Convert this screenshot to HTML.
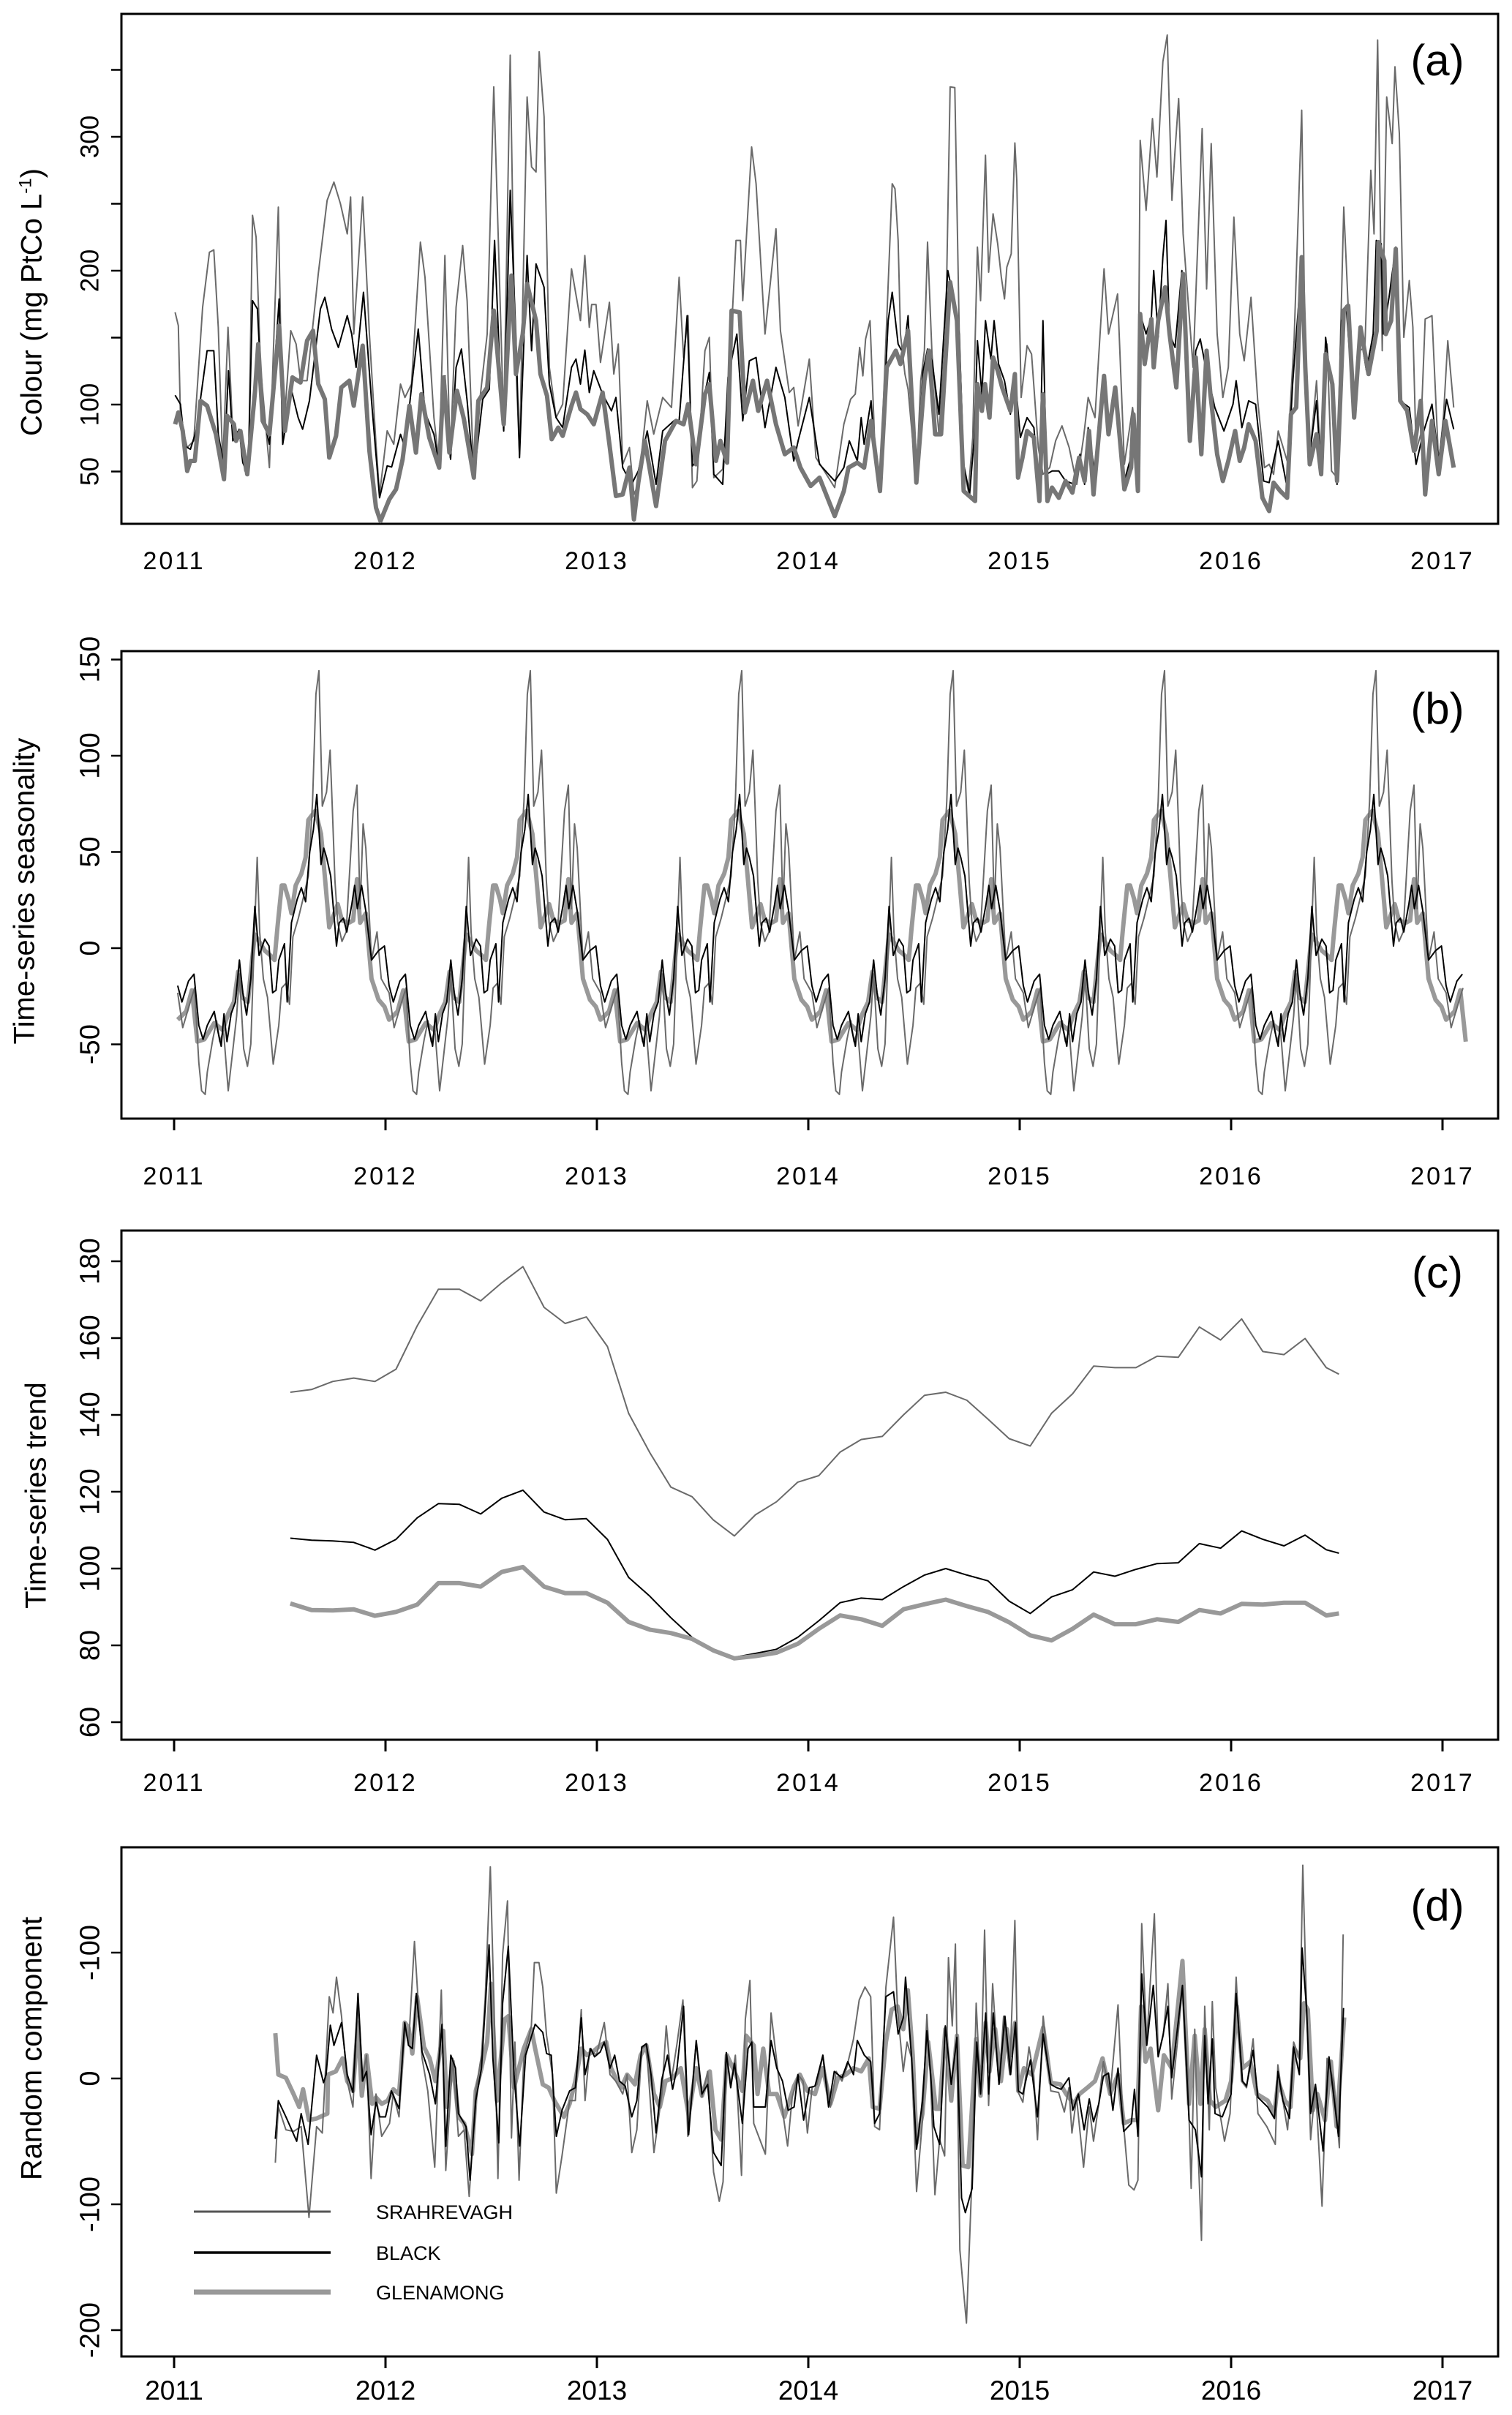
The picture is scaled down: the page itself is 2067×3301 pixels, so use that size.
<!DOCTYPE html>
<html><head><meta charset="utf-8"><title>Colour decomposition</title>
<style>
html,body{margin:0;padding:0;background:#fff;}
svg{display:block;font-family:"Liberation Sans",sans-serif;}
.nar{font-family:"Liberation Sans Narrow","Liberation Sans",sans-serif;}
</style></head>
<body>
<svg id="chart" xmlns="http://www.w3.org/2000/svg" width="2067" height="3301" viewBox="0 0 2067 3301">
<rect x="0" y="0" width="2067" height="3301" fill="#fff"/>
</svg>
<script>
// ---------- DATA ----------
const years = [2011,2012,2013,2014,2015,2016,2017];
const ticksA = [50,100,150,200,250,300,350];
const tickLabelsA = ["50","100","","200","","300",""];
const ticksB = [-50,0,50,100,150];
const tickLabelsB = ["-50","0","50","100","150"];
const ticksC = [60,80,100,120,140,160,180];
const tickLabelsC = ["60","80","100","120","140","160","180"];
const ticksD = [-200,-100,0,100];
const tickLabelsD = ["-200","-100","0","-100"];
const seriesNames = ["SRAHREVAGH","BLACK","GLENAMONG"];

// Panel (a) colour
const aSrahT = [2011.005,2011.020,2011.030,2011.062,2011.093,2011.135,2011.167,2011.188,2011.209,2011.230,2011.255,2011.278,2011.308,2011.335,2011.352,2011.371,2011.388,2011.409,2011.451,2011.493,2011.514,2011.552,2011.577,2011.598,2011.629,2011.682,2011.724,2011.756,2011.787,2011.819,2011.835,2011.850,2011.892,2011.924,2011.955,2011.972,2012.008,2012.039,2012.071,2012.092,2012.123,2012.165,2012.187,2012.229,2012.254,2012.281,2012.306,2012.334,2012.365,2012.386,2012.418,2012.449,2012.481,2012.512,2012.533,2012.559,2012.590,2012.611,2012.634,2012.670,2012.691,2012.712,2012.727,2012.750,2012.775,2012.807,2012.838,2012.880,2012.922,2012.943,2012.964,2012.975,2012.996,2013.017,2013.059,2013.080,2013.101,2013.122,2013.154,2013.175,2013.196,2013.238,2013.269,2013.311,2013.353,2013.389,2013.410,2013.431,2013.452,2013.473,2013.511,2013.532,2013.553,2013.595,2013.620,2013.658,2013.679,2013.690,2013.732,2013.753,2013.795,2013.847,2013.868,2013.910,2013.931,2013.952,2014.005,2014.036,2014.125,2014.168,2014.200,2014.222,2014.243,2014.258,2014.271,2014.292,2014.318,2014.339,2014.371,2014.397,2014.410,2014.425,2014.436,2014.457,2014.472,2014.511,2014.532,2014.549,2014.564,2014.585,2014.618,2014.650,2014.671,2014.693,2014.714,2014.735,2014.757,2014.778,2014.800,2014.815,2014.838,2014.853,2014.874,2014.896,2014.913,2014.928,2014.939,2014.960,2014.977,2014.986,2015.007,2015.035,2015.056,2015.088,2015.110,2015.142,2015.170,2015.200,2015.234,2015.270,2015.302,2015.324,2015.356,2015.399,2015.420,2015.463,2015.495,2015.534,2015.559,2015.570,2015.598,2015.628,2015.649,2015.677,2015.698,2015.720,2015.735,2015.752,2015.773,2015.820,2015.863,2015.884,2015.906,2015.934,2015.961,2015.987,2016.013,2016.041,2016.062,2016.094,2016.126,2016.158,2016.180,2016.201,2016.223,2016.265,2016.298,2016.334,2016.351,2016.372,2016.404,2016.426,2016.454,2016.475,2016.501,2016.533,2016.554,2016.582,2016.608,2016.633,2016.661,2016.676,2016.693,2016.715,2016.736,2016.762,2016.775,2016.796,2016.817,2016.843,2016.860,2016.875,2016.897,2016.918,2016.950,2016.982,2017.004,2017.025,2017.053];
const aSrahV = [168.9,158.9,90.3,67.9,72.9,172.7,213.8,215.6,157.7,55.4,157.7,77.9,80.4,50.4,47.9,241.3,225.1,127.8,52.9,247.5,70.4,155.2,145.2,117.8,117.8,197.6,252.5,266.2,250.0,227.5,255.0,152.7,255.0,152.7,70.4,32.9,80.4,70.4,115.3,105.3,115.3,221.3,195.1,90.3,55.4,211.3,60.4,172.7,218.8,177.6,45.4,107.8,152.7,337.3,227.5,85.3,361.0,152.7,62.9,329.8,277.5,273.7,363.5,314.9,127.8,90.3,100.3,201.4,162.7,211.3,157.7,174.7,174.7,131.5,176.4,122.8,145.2,55.4,67.9,32.9,40.4,102.8,77.9,105.3,97.8,195.1,135.2,166.4,37.9,42.9,140.2,150.2,45.4,51.7,102.8,222.6,222.6,177.6,292.4,265.0,152.7,231.3,155.2,109.0,112.8,84.1,134.0,60.4,38,85.3,104,107.8,142.7,121.5,148.9,162.7,55.4,38,162.7,265,261.2,222.6,152.7,122.8,111.5,42.9,117.8,140.2,221.3,137.7,77.8,155.2,337.3,336.8,155.2,52.9,35.4,75.4,217.6,177.6,286.2,198.9,242.5,220.1,195.1,178.9,202.6,212.6,295.4,267.5,105.3,144,137.7,67.9,47.9,52.9,72.9,84.1,67.9,40.4,75.4,105.3,90.3,201.4,152.7,182.6,55.4,97.8,62.9,297.4,245,313.6,270,356,376,252.5,290,328.6,227.5,127.8,306.1,186.4,294.9,152.7,105.3,127.8,240,152.7,132.7,180.1,102.8,52.9,55.4,47.9,80.3,57.9,147.7,319.9,132.7,60.4,117.8,47.9,145.2,50.4,45.4,247.5,172.7,107.8,140.2,142.7,275,227.5,372.3,140.2,329.8,294.9,352.3,302.4,150.2,192.6,157.7,65.4,77.8,163.9,166.4,55.4,90.3,147.7,97.8];
const aBlackT = [2011.005,2011.030,2011.051,2011.077,2011.104,2011.156,2011.188,2011.209,2011.236,2011.257,2011.278,2011.308,2011.325,2011.350,2011.371,2011.394,2011.419,2011.451,2011.497,2011.514,2011.556,2011.587,2011.608,2011.640,2011.692,2011.713,2011.745,2011.777,2011.819,2011.840,2011.861,2011.896,2011.934,2011.972,2012.008,2012.029,2012.071,2012.092,2012.123,2012.155,2012.187,2012.229,2012.254,2012.281,2012.308,2012.334,2012.359,2012.386,2012.418,2012.460,2012.491,2012.516,2012.544,2012.559,2012.590,2012.617,2012.634,2012.670,2012.691,2012.712,2012.750,2012.775,2012.807,2012.838,2012.880,2012.901,2012.922,2012.943,2012.964,2012.985,2013.027,2013.069,2013.090,2013.122,2013.164,2013.196,2013.238,2013.280,2013.311,2013.364,2013.389,2013.427,2013.452,2013.473,2013.511,2013.532,2013.553,2013.595,2013.620,2013.662,2013.690,2013.721,2013.753,2013.795,2013.847,2013.889,2013.931,2013.952,2014.005,2014.053,2014.125,2014.168,2014.194,2014.232,2014.250,2014.264,2014.297,2014.318,2014.339,2014.378,2014.397,2014.425,2014.451,2014.472,2014.511,2014.543,2014.564,2014.585,2014.618,2014.660,2014.693,2014.714,2014.735,2014.763,2014.785,2014.800,2014.821,2014.838,2014.864,2014.879,2014.900,2014.928,2014.956,2014.977,2015.003,2015.035,2015.067,2015.093,2015.110,2015.127,2015.153,2015.185,2015.217,2015.260,2015.285,2015.307,2015.324,2015.356,2015.399,2015.427,2015.452,2015.495,2015.521,2015.534,2015.555,2015.570,2015.598,2015.623,2015.634,2015.655,2015.677,2015.692,2015.709,2015.735,2015.767,2015.805,2015.833,2015.854,2015.880,2015.902,2015.923,2015.966,2016.009,2016.024,2016.051,2016.083,2016.116,2016.154,2016.180,2016.201,2016.223,2016.265,2016.291,2016.330,2016.347,2016.372,2016.404,2016.426,2016.447,2016.479,2016.501,2016.522,2016.544,2016.582,2016.612,2016.640,2016.672,2016.687,2016.710,2016.719,2016.747,2016.779,2016.800,2016.843,2016.875,2016.907,2016.950,2016.982,2017.019,2017.053];
const aBlackV = [107.0,100.3,69.1,66.6,80.3,140.2,140.2,77.8,54.2,125.3,72.9,81.6,56.6,47.9,177.6,171.4,92.8,70.4,178.9,70.4,110.3,90.3,81.6,102.8,171.4,180.1,156.4,142.7,166.4,152.7,127.8,183.9,102.8,30.4,54.2,53.4,77.8,67.9,112.8,156.4,94.1,77.8,54.2,121.5,59.1,127.8,141.5,102.8,45.4,104,111.5,222.6,115.3,80.3,260,150.2,60.4,211.3,140.2,205.1,187.6,115.3,90.3,82.8,127.8,134,115.3,140.7,109,125.3,107.8,95.3,105.3,52.9,40.4,50.4,80.3,40.4,80.3,87.8,87.8,166.4,54.2,57.9,109,124,47.9,40.4,120.3,152.7,87.8,132.7,135.2,82.8,127.8,105.3,57.9,72.9,105.3,55.4,42.9,52.9,72.9,57.9,90.3,70.4,102.8,55.4,39.2,162.7,183.9,145.2,137.7,166.4,41.7,125.3,141.5,132.7,92.8,200.1,175.2,152.7,55.4,32.9,75.4,147.7,107.8,162.7,134,162.7,130.3,117.8,92.8,122.8,75.4,90.3,82.8,35.4,162.7,47.9,50.4,50.4,42.9,40.4,62.9,40.4,82.8,47.9,120.3,80.3,112.8,42.9,57.9,92.8,60.4,167.7,152.7,165.2,200.1,150.2,210.1,237.5,152.7,142.7,200.1,75.4,140.2,149,127.8,112.8,97.8,80.3,100.3,117.8,82.8,102.8,100.3,42.9,41.7,57.9,72.9,38,115.3,197.6,140.2,62.9,102.8,47.9,150.2,107.8,40.4,162.7,173.9,92.8,152.7,125.3,152.7,222.6,220.1,152.7,180.1,217.6,102.8,97.8,55.4,77.8,100.3,57.9,104,81.6];
const aGlenT = [2011.005,2011.020,2011.041,2011.062,2011.077,2011.098,2011.125,2011.156,2011.198,2011.236,2011.251,2011.283,2011.293,2011.314,2011.346,2011.383,2011.398,2011.419,2011.451,2011.497,2011.524,2011.560,2011.598,2011.629,2011.657,2011.682,2011.713,2011.734,2011.766,2011.791,2011.829,2011.850,2011.892,2011.924,2011.955,2011.976,2012.018,2012.050,2012.081,2012.113,2012.144,2012.170,2012.207,2012.254,2012.275,2012.302,2012.338,2012.371,2012.418,2012.439,2012.481,2012.512,2012.559,2012.596,2012.617,2012.649,2012.670,2012.712,2012.733,2012.764,2012.786,2012.817,2012.838,2012.880,2012.901,2012.922,2012.954,2012.985,2013.027,2013.059,2013.090,2013.122,2013.154,2013.175,2013.196,2013.227,2013.280,2013.322,2013.374,2013.410,2013.431,2013.469,2013.511,2013.532,2013.563,2013.584,2013.616,2013.637,2013.675,2013.700,2013.738,2013.763,2013.805,2013.847,2013.889,2013.931,2013.963,2014.011,2014.053,2014.125,2014.168,2014.190,2014.232,2014.264,2014.297,2014.339,2014.371,2014.414,2014.436,2014.472,2014.511,2014.549,2014.571,2014.600,2014.628,2014.671,2014.703,2014.735,2014.789,2014.800,2014.821,2014.836,2014.857,2014.874,2014.896,2014.917,2014.956,2014.977,2014.992,2015.013,2015.035,2015.067,2015.093,2015.110,2015.131,2015.153,2015.185,2015.217,2015.249,2015.281,2015.307,2015.328,2015.349,2015.399,2015.420,2015.452,2015.495,2015.527,2015.538,2015.559,2015.570,2015.591,2015.623,2015.634,2015.655,2015.688,2015.709,2015.741,2015.773,2015.805,2015.833,2015.859,2015.884,2015.902,2015.934,2015.961,2015.987,2016.019,2016.041,2016.062,2016.083,2016.116,2016.148,2016.180,2016.201,2016.233,2016.265,2016.283,2016.308,2016.334,2016.351,2016.372,2016.404,2016.426,2016.447,2016.479,2016.501,2016.533,2016.554,2016.582,2016.612,2016.650,2016.689,2016.697,2016.725,2016.732,2016.757,2016.779,2016.800,2016.833,2016.865,2016.897,2016.918,2016.950,2016.982,2017.014,2017.053];
const aGlenV = [85.3,94.1,80.3,50.4,57.9,57.9,102.8,99.1,77.8,44.2,91.6,85.3,72.9,80.3,47.9,110.3,145.2,87.8,77.8,158.9,80.3,120.3,116.5,147.7,155.2,115.3,104,60.4,76.6,112.8,117.8,99.1,144,65.4,23,13,29.2,36.7,59.1,99.1,64.1,107.8,75.4,52.9,120.3,64.1,110.3,89.1,45.4,102.8,112.8,170.2,85.3,196.4,122.8,152.7,190.1,162.7,122.8,106.5,74.1,82.8,76.6,99.1,109,96.6,92.8,85.3,109,70.4,31.7,32.9,52.9,14.2,41.7,72.9,24.2,72.9,87.8,85.3,100.3,55.4,107.8,115.3,57.9,72.9,56.6,170.2,168.9,94.1,117.8,95.3,117.8,85.3,62.9,67.9,52.9,39.2,45.4,16.7,35.4,52.9,56.6,52.9,87.8,35.4,127.8,140.2,130.3,155.2,41.7,117.8,140.2,77.8,77.8,191.4,162.7,35.4,27.9,115.3,95.3,115.3,90.3,135.2,125.3,112.8,95.3,122.8,45.4,60.4,80.3,75.4,27.9,107.8,27.9,38,30.4,42.9,34.2,60.4,42.9,80.3,32.9,121.5,77.8,112.8,36.7,52.9,92.8,35.4,167.7,130.3,163.9,127.8,162.7,187.6,152.7,112.8,197.6,72.9,135.2,62.9,140.2,107.8,62.9,42.9,57.9,80.3,57.9,67.9,85.3,72.9,30.4,20.5,41.7,35.4,30.4,92.8,97.8,210.1,127.8,55.4,77.8,47.9,137.7,115.3,42.9,170.2,173.9,90.3,157.7,122.8,155.2,221.3,207.6,152.7,162.7,216.3,102.8,95.3,65.4,102.8,32.9,87.8,47.9,87.8,52.9];

// Panel (b) seasonality: one-year pattern (fraction of year, value), repeated each year
const bSrahPhase = [.017,.041,.070,.097,.117,.130,.147,.157,.183,.201,.216,.234,.256,.276,.296,.309,.329,.347,.363,.382,.393,.405,.422,.442,.469,.495,.509,.529,.546,.562,.588,.615,.635,.655,.671,.685,.701,.721,.738,.748,.761,.774,.794,.814,.847,.865,.880,.894,.907,.934,.960,.980];
const bSrahV = [-23.2,-41.3,-30.4,-20.7,-59.5,-74.1,-76,-64.4,-47.4,-37.7,-48.6,-43,-74.1,-54.7,-35.3,-13.4,-52.3,-61.4,-49.8,13.2,47.2,8.4,-15.9,-25.6,-60.3,-40.1,-20.7,-18.3,-29.2,5.9,15.6,27.8,37.5,76.3,132,144.2,73.8,81.1,102.9,73.8,35,13.2,3.5,8.4,71.4,84.7,20.5,64.6,52,-6.2,8.4,-15.9];
const bBlackPhase = [.017,.037,.068,.094,.117,.137,.157,.190,.206,.223,.236,.250,.270,.290,.309,.325,.343,.363,.382,.402,.429,.449,.466,.482,.495,.522,.535,.555,.582,.602,.622,.641,.659,.675,.695,.708,.721,.741,.768,.781,.801,.817,.841,.854,.867,.887,.907,.934,.967,.995];
const bBlackV = [-19.5,-28,-17.1,-13.5,-40.1,-47.4,-40.1,-32.9,-42.6,-51,-34.1,-48.6,-34.1,-28,-6.2,-23.2,-34.8,-15.9,21.7,-3.8,4.7,1.1,-23.2,-21.9,-6.2,2.3,-28,13.2,25.3,31.4,24.1,49.6,61.7,79.9,43.5,52,47.2,37.5,1.1,13.2,15.6,8.4,22.9,32.6,20.5,32.6,19.3,-6.2,-1.3,1.1];
const bGlenPhase = [.017,.057,.084,.110,.143,.190,.230,.256,.283,.303,.323,.349,.369,.382,.402,.429,.456,.475,.489,.509,.522,.542,.555,.575,.602,.622,.635,.668,.695,.714,.734,.754,.774,.794,.827,.847,.865,.880,.907,.934,.967,.995];
const bGlenV = [-37.2,-32.9,-21.9,-48.6,-47.4,-38.9,-42.6,-34.1,-28,-12.2,-25.6,-28,-6.2,7.1,3.5,-1.3,-3.8,-6.2,10.8,32.6,32.6,25.3,18.1,32.6,38.7,47.2,66.6,71.4,59.3,36.3,10.8,16.9,22.9,14.4,13.2,14.4,35.8,13.2,18.1,-15.9,-26.8,-30.4];
const bEndTime = 2017.11;

// Panel (c) trend
const cT = [2011.55,2011.65,2011.75,2011.85,2011.95,2012.05,2012.15,2012.25,2012.35,2012.45,2012.55,2012.65,2012.75,2012.85,2012.95,2013.05,2013.15,2013.25,2013.35,2013.45,2013.55,2013.65,2013.75,2013.85,2013.95,2014.05,2014.15,2014.25,2014.35,2014.45,2014.55,2014.65,2014.75,2014.85,2014.95,2015.05,2015.15,2015.25,2015.35,2015.45,2015.55,2015.65,2015.75,2015.85,2015.95,2016.05,2016.15,2016.25,2016.35,2016.45,2016.51];
const cSrahV = [145.9,146.6,148.7,149.6,148.7,151.9,163.2,172.7,172.7,169.7,174.4,178.6,168.0,163.8,165.5,157.8,140.4,130.2,121.2,118.7,112.7,108.5,114.0,117.4,122.5,124.2,130.3,133.6,134.4,140.0,145.1,145.9,143.8,138.9,133.8,131.9,140.4,145.5,152.7,152.3,152.3,155.3,155.0,162.9,159.5,165.0,156.5,155.7,159.9,152.3,150.6];
const cBlackV = [107.9,107.4,107.2,106.8,104.8,107.6,113.2,116.9,116.7,114.2,118.3,120.4,114.7,112.7,113.0,107.6,97.7,92.8,87.2,82.1,78.7,76.9,77.9,79.0,82.1,86.4,91.1,92.3,91.9,95.3,98.3,100.0,98.3,96.8,91.5,88.3,92.6,94.5,99.1,98.0,99.8,101.3,101.5,106.5,105.3,109.8,107.6,105.9,108.7,104.9,104.0];
const cGlenV = [90.9,89.2,89.1,89.4,87.7,88.7,90.6,96.2,96.2,95.3,99.1,100.4,95.3,93.6,93.6,91.1,86.1,84.1,83.2,81.7,78.7,76.6,77.2,78.1,80.4,84.3,87.8,86.8,85.1,89.4,90.7,91.9,90.2,88.7,86.0,82.6,81.3,84.3,88.0,85.5,85.5,86.8,86.1,89.2,88.3,90.8,90.6,91.1,91.1,87.8,88.3];

// Panel (d) random component
const dSrahT = [2011.479,2011.493,2011.529,2011.565,2011.601,2011.638,2011.674,2011.701,2011.734,2011.752,2011.768,2011.792,2011.819,2011.846,2011.870,2011.888,2011.910,2011.932,2011.955,2011.982,2012.019,2012.037,2012.064,2012.091,2012.109,2012.137,2012.155,2012.173,2012.200,2012.233,2012.264,2012.285,2012.318,2012.345,2012.372,2012.396,2012.427,2012.454,2012.472,2012.496,2012.514,2012.532,2012.554,2012.577,2012.596,2012.612,2012.632,2012.654,2012.690,2012.704,2012.726,2012.744,2012.762,2012.790,2012.808,2012.835,2012.871,2012.898,2012.926,2012.944,2012.966,2012.998,2013.035,2013.062,2013.089,2013.122,2013.143,2013.165,2013.189,2013.212,2013.234,2013.270,2013.307,2013.328,2013.352,2013.379,2013.407,2013.430,2013.470,2013.497,2013.524,2013.552,2013.579,2013.597,2013.615,2013.633,2013.655,2013.684,2013.702,2013.724,2013.742,2013.797,2013.824,2013.851,2013.878,2013.902,2013.924,2013.951,2013.975,2013.996,2014.018,2014.041,2014.069,2014.105,2014.132,2014.159,2014.181,2014.214,2014.241,2014.268,2014.295,2014.314,2014.337,2014.367,2014.403,2014.422,2014.449,2014.467,2014.489,2014.512,2014.540,2014.561,2014.579,2014.599,2014.621,2014.645,2014.663,2014.681,2014.696,2014.717,2014.748,2014.775,2014.794,2014.815,2014.834,2014.853,2014.872,2014.902,2014.924,2014.953,2014.977,2014.993,2015.015,2015.044,2015.066,2015.084,2015.111,2015.147,2015.184,2015.211,2015.233,2015.247,2015.269,2015.302,2015.329,2015.349,2015.374,2015.396,2015.428,2015.465,2015.487,2015.516,2015.541,2015.559,2015.577,2015.601,2015.637,2015.655,2015.679,2015.701,2015.719,2015.746,2015.770,2015.795,2015.811,2015.828,2015.842,2015.860,2015.875,2015.897,2015.911,2015.927,2015.969,2015.995,2016.024,2016.049,2016.073,2016.104,2016.127,2016.169,2016.209,2016.221,2016.245,2016.267,2016.296,2016.323,2016.339,2016.354,2016.376,2016.399,2016.430,2016.454,2016.485,2016.512,2016.530];
const dSrahV = [-67,-22.7,-40.8,-42.1,-38.2,-110.5,-38.2,-43.4,65,52.1,80.5,49.5,-2.1,-22.7,62.4,-2.1,18.5,-79.5,-12.4,-46,-35.7,-12.4,-30.5,43.1,26.3,108.9,59.8,16,-9.9,-70.5,70.2,-73.1,16,-46,-40.8,-93.7,-9.9,18.5,65,168.2,54.7,-79.5,98.5,141.1,-47.3,28.9,-80.8,16,41.8,92.1,92.1,72.7,34,3.1,-91.1,-61.5,-17.6,-17.6,54.7,-17.6,23.7,18.5,44.4,3.1,-2.1,-12.4,3.1,-58.9,-40.8,23.7,26.3,-58.9,-12.4,41.8,-2.1,27.6,62.4,-46,28.9,-15,5.6,-74.4,-97.6,-82.1,18.5,-4.7,18.5,-77,46.9,77.9,-35.7,-60.2,52.1,13.4,-25.3,-53.7,-15,3.1,-2.1,-43.4,-7.3,-4.7,18.5,-22.7,5.6,-2.1,8.2,31.4,62.4,72.7,65,-38.2,-40.8,72.7,128.2,54.7,5.6,28.9,16,-89.8,-33.1,50.8,-2.1,-92.4,-48.6,-61.5,96,41.8,106.8,-136.3,-194.4,-74.4,59.8,-12.4,117.9,-21.5,75.3,-4.7,49.5,3.1,125.6,-11.1,-18.9,25,3.1,-48.6,49.5,-9.9,-11.1,-26.6,-7.3,-43.4,-15,-70.5,-22.7,-49.9,-20.2,13.4,-12.4,58.5,-27.9,-84.7,-88.6,-80.8,123,28.9,130.8,18.5,34,75.3,-16.3,28.9,72.7,3.1,-87.3,39.2,-48.6,-128.6,57.3,-40.8,61.1,-7.3,-49.9,-27.9,80.5,-2.1,-7.3,31.4,-27.9,-38.2,-52.4,10.8,-17.6,-40.8,28.9,16,169.5,75.3,-48.6,-4.7,-101.5,16,-2.1,-55,114.5];
const dBlackT = [2011.479,2011.493,2011.529,2011.580,2011.601,2011.634,2011.674,2011.707,2011.719,2011.739,2011.756,2011.792,2011.819,2011.846,2011.870,2011.892,2011.910,2011.932,2011.955,2011.973,2012.000,2012.028,2012.064,2012.091,2012.109,2012.127,2012.146,2012.173,2012.209,2012.236,2012.267,2012.285,2012.309,2012.331,2012.345,2012.381,2012.400,2012.427,2012.454,2012.490,2012.508,2012.536,2012.554,2012.581,2012.608,2012.635,2012.663,2012.708,2012.744,2012.762,2012.784,2012.808,2012.835,2012.871,2012.898,2012.926,2012.944,2012.971,2012.989,2013.016,2013.035,2013.062,2013.084,2013.107,2013.134,2013.165,2013.189,2013.212,2013.234,2013.256,2013.280,2013.307,2013.334,2013.358,2013.379,2013.410,2013.434,2013.470,2013.497,2013.524,2013.552,2013.588,2013.612,2013.633,2013.651,2013.688,2013.715,2013.733,2013.742,2013.797,2013.824,2013.851,2013.878,2013.905,2013.933,2013.951,2013.978,2014.005,2014.032,2014.069,2014.096,2014.123,2014.159,2014.187,2014.214,2014.232,2014.265,2014.295,2014.314,2014.337,2014.367,2014.403,2014.425,2014.449,2014.460,2014.489,2014.512,2014.540,2014.561,2014.579,2014.594,2014.621,2014.648,2014.676,2014.703,2014.725,2014.743,2014.775,2014.797,2014.815,2014.839,2014.853,2014.875,2014.902,2014.930,2014.957,2014.980,2014.993,2015.015,2015.051,2015.084,2015.111,2015.147,2015.175,2015.196,2015.233,2015.251,2015.278,2015.305,2015.329,2015.349,2015.374,2015.396,2015.420,2015.441,2015.465,2015.492,2015.528,2015.543,2015.559,2015.577,2015.601,2015.632,2015.655,2015.679,2015.701,2015.719,2015.770,2015.801,2015.831,2015.860,2015.875,2015.891,2015.911,2015.924,2015.958,2016.000,2016.024,2016.054,2016.073,2016.104,2016.127,2016.173,2016.205,2016.221,2016.245,2016.276,2016.296,2016.323,2016.336,2016.357,2016.376,2016.399,2016.435,2016.463,2016.490,2016.508,2016.532];
const dBlackV = [-48,-17.6,-30.5,-49.9,-27.9,-52.4,18.5,-3.4,3.1,42.3,26.3,44.4,3.1,-11.1,67.6,-2.1,5.6,-44.7,-18.9,-30.5,-30.5,-9.9,-24.1,44.4,26.3,23.7,67.6,21.1,3.1,-20.2,43.1,-54,18.5,8.2,-27.9,-38.2,-80.8,-17.6,8.2,106.3,16,-51.1,59.8,105,3.1,-53.7,18.5,43.1,36.6,19.8,18.5,-46,-25.3,-9.9,-7.3,48.2,3.1,23.7,17.2,21.1,28.9,8.2,18.5,-2.1,-6,-30.5,-17.6,25,27.6,3.1,-43.4,-0.8,18.5,-8.6,8.2,57.3,-44.7,30.2,-12.4,-4.7,-58.9,-69.2,20.6,-7.3,12.1,-35.7,23.7,28.9,-22.7,-22.7,30.2,8.2,-2.1,-25.3,-22.7,3.1,-33.1,-7.3,-6,18.5,-22.7,5.6,0.5,13.4,3.1,30.2,18.5,13.4,-35.7,-27.9,65,68.9,35.3,48.2,80.5,16,-56.3,-17.6,37.9,3.1,-38.2,-52.4,41.8,-4.7,32.7,-95,-106.6,-87.3,28.9,-12.4,52.1,-12.4,52.1,-4.7,49.5,3.1,44.4,-9.9,-12.4,14.7,-30.5,35.3,-4.7,-7.3,-8.6,0.5,-25.3,-12.4,-40.8,-16.3,-34.4,-20.2,1.8,4.3,-25.3,8.2,-42.1,-35.7,-8.6,-46,83.1,26.3,74,17.2,35.3,57.3,0.5,74,-33.1,-40.8,-78.2,34,-20.2,31.4,-27.9,-30.5,-12.4,67.6,-2.1,-6,22.4,-15,-22.7,-31.8,5.6,-17.6,-31.8,25,3.1,103.7,54.7,-27.9,-4.7,-57.6,17.2,-20.2,-46,56];
const dGlenT = [2011.479,2011.493,2011.529,2011.565,2011.592,2011.610,2011.638,2011.674,2011.725,2011.728,2011.765,2011.797,2011.819,2011.846,2011.870,2011.888,2011.910,2011.937,2011.955,2011.982,2012.010,2012.037,2012.064,2012.091,2012.109,2012.127,2012.149,2012.182,2012.209,2012.236,2012.273,2012.291,2012.318,2012.345,2012.372,2012.409,2012.427,2012.454,2012.481,2012.499,2012.527,2012.563,2012.581,2012.608,2012.654,2012.690,2012.708,2012.744,2012.772,2012.799,2012.844,2012.871,2012.898,2012.926,2012.953,2012.980,2013.016,2013.044,2013.067,2013.089,2013.116,2013.143,2013.180,2013.207,2013.234,2013.270,2013.298,2013.325,2013.361,2013.397,2013.434,2013.470,2013.497,2013.534,2013.561,2013.588,2013.615,2013.651,2013.688,2013.706,2013.742,2013.760,2013.787,2013.815,2013.851,2013.887,2013.933,2013.960,2013.996,2014.032,2014.069,2014.105,2014.141,2014.178,2014.214,2014.250,2014.286,2014.305,2014.337,2014.367,2014.394,2014.422,2014.449,2014.471,2014.494,2014.512,2014.540,2014.567,2014.585,2014.603,2014.621,2014.648,2014.676,2014.703,2014.730,2014.757,2014.794,2014.815,2014.839,2014.857,2014.884,2014.911,2014.939,2014.957,2014.979,2014.993,2015.020,2015.057,2015.111,2015.147,2015.193,2015.220,2015.256,2015.283,2015.320,2015.356,2015.392,2015.428,2015.465,2015.492,2015.528,2015.556,2015.574,2015.595,2015.619,2015.655,2015.682,2015.719,2015.770,2015.801,2015.828,2015.855,2015.875,2015.900,2015.927,2015.973,2016.000,2016.027,2016.054,2016.091,2016.122,2016.173,2016.205,2016.223,2016.254,2016.281,2016.299,2016.327,2016.345,2016.363,2016.387,2016.408,2016.444,2016.472,2016.499,2016.535];
const dGlenV = [36,3.1,0.5,-12.4,-22.7,-8.6,-33.1,-31.8,-27.9,3.1,5.6,16,-2.1,-9.9,44.4,-13.7,18.5,-20.2,-15,-20.2,-17.6,-8.6,-12.4,44.4,40.5,19.8,65,25,16,-2.1,37.9,-22.7,13.4,-30.5,-35.7,-60.2,-9.9,8.2,28.9,75.3,-17.6,46.9,49.5,-7.3,23.7,39.2,23.7,-4.7,-7.3,-17.6,-30.5,-20.2,-2.1,23.7,18.5,21.1,26.3,28.9,8.2,0.5,-7.3,3.1,-4.7,18.5,26.3,-12.4,-22.7,-2.1,0.5,8.2,-29.2,8.2,-13.7,5.6,-40.8,-48.6,18.5,5.6,-9.9,34,26.3,-12.4,23.7,-12.4,-12.4,-30.5,-6,3.1,-9.9,-12.4,8.2,-20.2,0.5,3.1,8.2,5.6,16,-22.7,-24.1,28.9,54.7,57.3,39.2,70.2,18.5,-51.1,-27.9,28.9,3.1,-24.1,-24.1,39.2,-17.6,34,-69.2,-70.5,31.4,-13.7,44.4,5.6,39.2,-2.1,39.2,18.5,44.4,-9.9,8.2,3.1,40.5,-3.4,-4.7,-12.4,-20.2,-12.4,-7.3,-2.1,16,-12.4,3.1,-35.7,-33.1,-33.1,57.3,13.4,23.7,-25.3,18.5,8.2,93.4,-20.2,34,-20.2,39.2,-17.6,-22.7,-17.6,-2.1,57.3,8.2,13.4,-12.4,-17.6,-27.9,-2.1,-17.6,-22.7,23.7,16,59.8,54.7,-25.3,-12.4,-33.1,13.4,-38.2,48.5];

// ---------- LAYOUT ----------
const NS = "http://www.w3.org/2000/svg";
const svg = document.getElementById('chart');
const L = 166, R = 2048;
const X = t => 238 + (t - 2011) * 289;
const panels = {
  a:{top:19,bottom:716,Y:v=>553-(v-100)*1.83},
  b:{top:890,bottom:1529,Y:v=>1296-v*2.63},
  c:{top:1682,bottom:2378,Y:v=>2144-(v-100)*5.25},
  d:{top:2525,bottom:3221,Y:v=>2841-v*1.72}
};
function el(tag, attrs, parent){
  const e = document.createElementNS(NS, tag);
  for (const k in attrs) e.setAttribute(k, attrs[k]);
  (parent||svg).appendChild(e);
  return e;
}
function line(name, T, V, Y, stroke, w, clip){
  const d = T.map((t,i)=>(i?'L':'M')+X(t).toFixed(1)+' '+Y(V[i]).toFixed(1)).join(' ');
  const p = el('path',{d:d,fill:'none',stroke:stroke,'stroke-width':w,'stroke-linejoin':'round','clip-path':'url(#'+clip+')'});
  
  
  return p;
}
const defs = el('defs',{});
for (const k in panels){
  const cp = el('clipPath',{id:'clip-'+k},defs);
  el('rect',{x:L,y:panels[k].top,width:R-L,height:panels[k].bottom-panels[k].top},cp);
}
function yTicks(k, ticks, labels, narrow){
  const P = panels[k];
  ticks.forEach((v,i)=>{
    const y = P.Y(v);
    const tk = el('line',{x1:L-14,x2:L,y1:y,y2:y,stroke:'#000','stroke-width':2.5});
    
    
    if (labels[i]){
      const tx = el('text',{x:122,y:y,'text-anchor':'middle',dy:'0.36em','font-size':narrow?38:35,transform:'rotate(-90 122 '+y+')'});
      if (narrow) tx.setAttribute('class','nar');
      tx.textContent = labels[i];
      
      
    }
  });
}
function xAxis(k, drawTicks, narrow, labelY){
  const P = panels[k];
  years.forEach(yr=>{
    const x = X(yr);
    if (drawTicks){
      const tk = el('line',{x1:x,x2:x,y1:P.bottom,y2:P.bottom+16,stroke:'#000','stroke-width':3});
      
      
    }
    const tx = el('text',{x:x,y:labelY,'text-anchor':'middle','font-size':narrow?37:34,'letter-spacing':narrow?0:3});
    if (narrow) tx.setAttribute('class','nar');
    tx.textContent = String(yr);
    
    
  });
}
function frame(k, label, ly, title, tx, ty, narrow){
  const P = panels[k];
  const r = el('rect',{x:L,y:P.top,width:R-L,height:P.bottom-P.top,fill:'none',stroke:'#000','stroke-width':3});
  
  
  const pl = el('text',{x:1965,y:ly,'text-anchor':'middle','font-size':60});
  pl.textContent = label;
  
  
  const t = el('text',{x:tx,y:ty,'text-anchor':'middle',dy:'0.36em','font-size':40,transform:'rotate(-90 '+tx+' '+ty+')'});
  if (narrow) t.setAttribute('class','nar');
  
  
  return t;
}

// Panel a
let ta = frame('a','(a)',103,'',42,413,false);
ta.textContent = 'Colour (mg PtCo L';
const sup = el('tspan',{'font-size':24,dy:'-14'},ta); sup.textContent='-1';
const cl = el('tspan',{dy:'14'},ta); cl.textContent=')';
yTicks('a', ticksA, tickLabelsA, false);
xAxis('a', false, false, 778);
line('panel-a-srahrevagh-line', aSrahT, aSrahV, panels.a.Y, '#6a6a6a', 2, 'clip-a');
line('panel-a-black-line', aBlackT, aBlackV, panels.a.Y, '#000', 2, 'clip-a');
line('panel-a-glenamong-line', aGlenT, aGlenV, panels.a.Y, '#767676', 6, 'clip-a');

// Panel b: repeat seasonal pattern per year
function expand(ph, V){
  const T=[], W=[];
  for (let y=2011; y<=2017; y++) ph.forEach((p,i)=>{ if (y+p<=bEndTime){T.push(y+p); W.push(V[i]);} });
  return [T,W];
}
let tb = frame('b','(b)',989,'',32,1218,true); tb.textContent='Time-series seasonality';
yTicks('b', ticksB, tickLabelsB, true);
xAxis('b', true, false, 1619);
let s1=expand(bSrahPhase,bSrahV), s2=expand(bBlackPhase,bBlackV), s3=expand(bGlenPhase,bGlenV);
line('panel-b-glenamong-line', s3[0], s3[1], panels.b.Y, '#999', 6, 'clip-b');
line('panel-b-srahrevagh-line', s1[0], s1[1], panels.b.Y, '#6a6a6a', 2, 'clip-b');
line('panel-b-black-line', s2[0], s2[1], panels.b.Y, '#000', 2, 'clip-b');

// Panel c
let tc = frame('c','(c)',1760,'',48,2044,true); tc.textContent='Time-series trend';
yTicks('c', ticksC, tickLabelsC, true);
xAxis('c', true, false, 2448);
line('panel-c-srahrevagh-line', cT, cSrahV, panels.c.Y, '#6a6a6a', 2, 'clip-c');
line('panel-c-black-line', cT, cBlackV, panels.c.Y, '#000', 2, 'clip-c');
line('panel-c-glenamong-line', cT, cGlenV, panels.c.Y, '#999', 6, 'clip-c');

// Panel d
let td = frame('d','(d)',2625,'',42,2800,true); td.textContent='Random component';
yTicks('d', ticksD, tickLabelsD, true);
xAxis('d', true, true, 3280);
line('panel-d-glenamong-line', dGlenT, dGlenV, panels.d.Y, '#999', 6, 'clip-d');
line('panel-d-srahrevagh-line', dSrahT, dSrahV, panels.d.Y, '#6a6a6a', 2, 'clip-d');
line('panel-d-black-line', dBlackT, dBlackV, panels.d.Y, '#000', 2, 'clip-d');

// Legend
const legY = [3023,3079,3133], legC = ['#555','#000','#999'], legW = [3,3.5,7];
seriesNames.forEach((n,i)=>{
  const g = el('g',{});
  
  
  el('line',{x1:265,x2:452,y1:legY[i],y2:legY[i],stroke:legC[i],'stroke-width':legW[i]},g);
  const t = el('text',{x:514,y:legY[i]+10,'font-size':27,'class':'nar'},g);
  t.textContent = n;
});
</script>
</body></html>
